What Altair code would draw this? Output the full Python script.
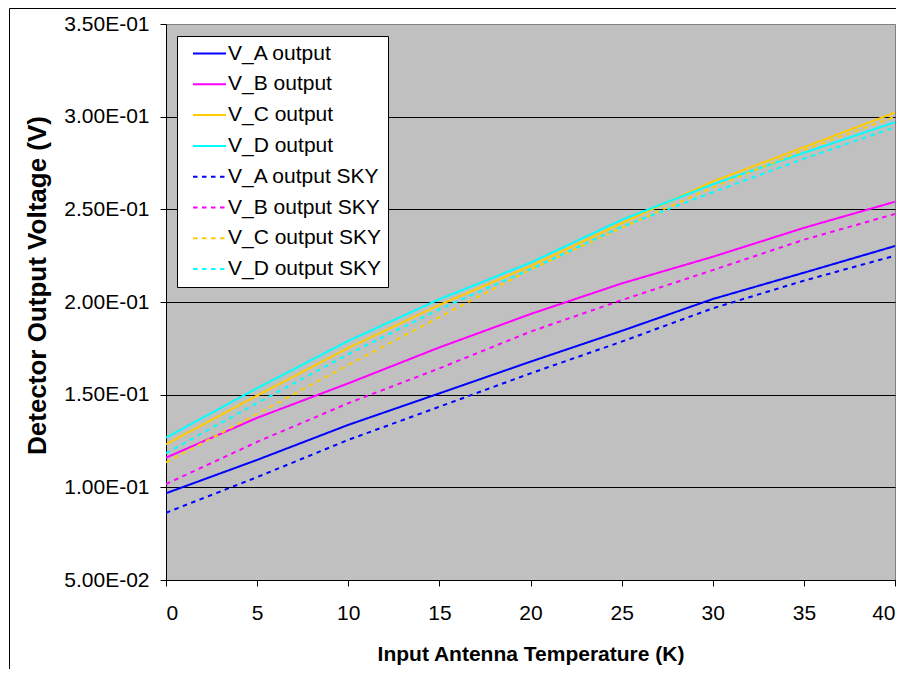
import altair as alt
import pandas as pd

temps = [0, 5, 10, 15, 20, 25, 30, 35, 40]
series_names = ["V_A output", "V_B output", "V_C output", "V_D output",
                "V_A output SKY", "V_B output SKY", "V_C output SKY", "V_D output SKY"]
v_a = [0.0968, 0.1148, 0.1337, 0.1507, 0.1678, 0.1844, 0.2016, 0.2158, 0.2302]
v_b = [0.1160, 0.1375, 0.1561, 0.1755, 0.1935, 0.2100, 0.2244, 0.2400, 0.2541]
v_c = [0.1232, 0.1495, 0.1752, 0.1984, 0.2194, 0.2425, 0.2650, 0.2835, 0.3022]
v_d = [0.1268, 0.1535, 0.1790, 0.2015, 0.2212, 0.2443, 0.2635, 0.2805, 0.2970]
v_a_sky = [0.0863, 0.1055, 0.1256, 0.1435, 0.1615, 0.1786, 0.1966, 0.2115, 0.2250]
v_b_sky = [0.1018, 0.1245, 0.1454, 0.1642, 0.1840, 0.2010, 0.2172, 0.2336, 0.2475]
v_c_sky = [0.1135, 0.1396, 0.1660, 0.1918, 0.2175, 0.2400, 0.2618, 0.2820, 0.3000]
v_d_sky = [0.1184, 0.1455, 0.1718, 0.1961, 0.2177, 0.2406, 0.2592, 0.2773, 0.2943]
y_ticks = [0.05, 0.10, 0.15, 0.20, 0.25, 0.30, 0.35]
x_ticks = [0, 5, 10, 15, 20, 25, 30, 35, 40]

colors = ["#0000FF", "#FF00FF", "#FFCC00", "#00FFFF",
          "#0000FF", "#FF00FF", "#FFCC00", "#00FFFF"]
dashes = [[1, 0]] * 4 + [[4.5, 4.5]] * 4

all_vals = [v_a, v_b, v_c, v_d, v_a_sky, v_b_sky, v_c_sky, v_d_sky]
rows = []
for name, vals in zip(series_names, all_vals):
    for t, v in zip(temps, vals):
        rows.append({"series": name, "temp": t, "volt": v})
df = pd.DataFrame(rows)

FONT = "Liberation Sans"

lines = alt.Chart(df).mark_line(strokeWidth=2, clip=True).encode(
    x=alt.X("temp:Q", scale=alt.Scale(domain=[0, 40], nice=False),
            axis=alt.Axis(values=x_ticks, title="Input Antenna Temperature (K)",
                          grid=False, tickSize=6, labelPadding=16,
                          titleX=364.5, titleY=74, titleBaseline="middle",
                          titleAlign="center", titleFontSize=21)),
    y=alt.Y("volt:Q", scale=alt.Scale(domain=[0.05, 0.35], nice=False, zero=False),
            axis=alt.Axis(values=y_ticks, title="Detector Output Voltage (V)",
                          labelExpr="replace(upper(format(datum.value, '.2e')), 'E-', 'E-0')",
                          grid=True, tickSize=6, labelPadding=11,
                          gridColor=alt.condition("datum.value > 0.34", alt.value("#808080"), alt.value("#000000")),
                          titleX=-129, titleY=261, titleBaseline="middle",
                          titleAlign="center", titleFontSize=26)),
    color=alt.Color("series:N", scale=alt.Scale(domain=series_names, range=colors),
                    legend=alt.Legend(title=None, orient="none", legendX=11, legendY=12,
                                      fillColor="white", strokeColor="black",
                                      padding=7, rowPadding=8.8,
                                      symbolType="M-0.3,0H6.3", symbolSize=100,
                                      symbolStrokeWidth=2, labelOffset=23,
                                      labelFontSize=21, labelFont=FONT,
                                      labelColor="black")),
    strokeDash=alt.StrokeDash("series:N", scale=alt.Scale(domain=series_names, range=dashes),
                              legend=None),
    order="temp:Q",
)

border_df = pd.DataFrame({"a": [0]})
border = alt.Chart(border_df).mark_rect(fill=None, stroke="black", strokeWidth=1).encode(
    x=alt.value(-156.5), x2=alt.value(1000), y=alt.value(-15.5), y2=alt.value(1000)
)

chart = alt.layer(border, lines).properties(
    width=729, height=556,
    autosize=alt.AutoSizeParams(type="none"),
    padding={"left": 158, "top": 16, "right": 1, "bottom": 89},
    background="white",
).configure_view(
    fill="#C0C0C0", stroke="#808080", strokeWidth=1
).configure_axis(
    labelFont=FONT, labelFontSize=21, labelColor="black",
    titleFont=FONT, titleFontWeight="bold", titleColor="black",
    domainColor="black", tickColor="black", domainWidth=1, tickWidth=1,
    gridWidth=1,
)

chart.save("out.html", embed_options={"renderer": "svg", "actions": False})
